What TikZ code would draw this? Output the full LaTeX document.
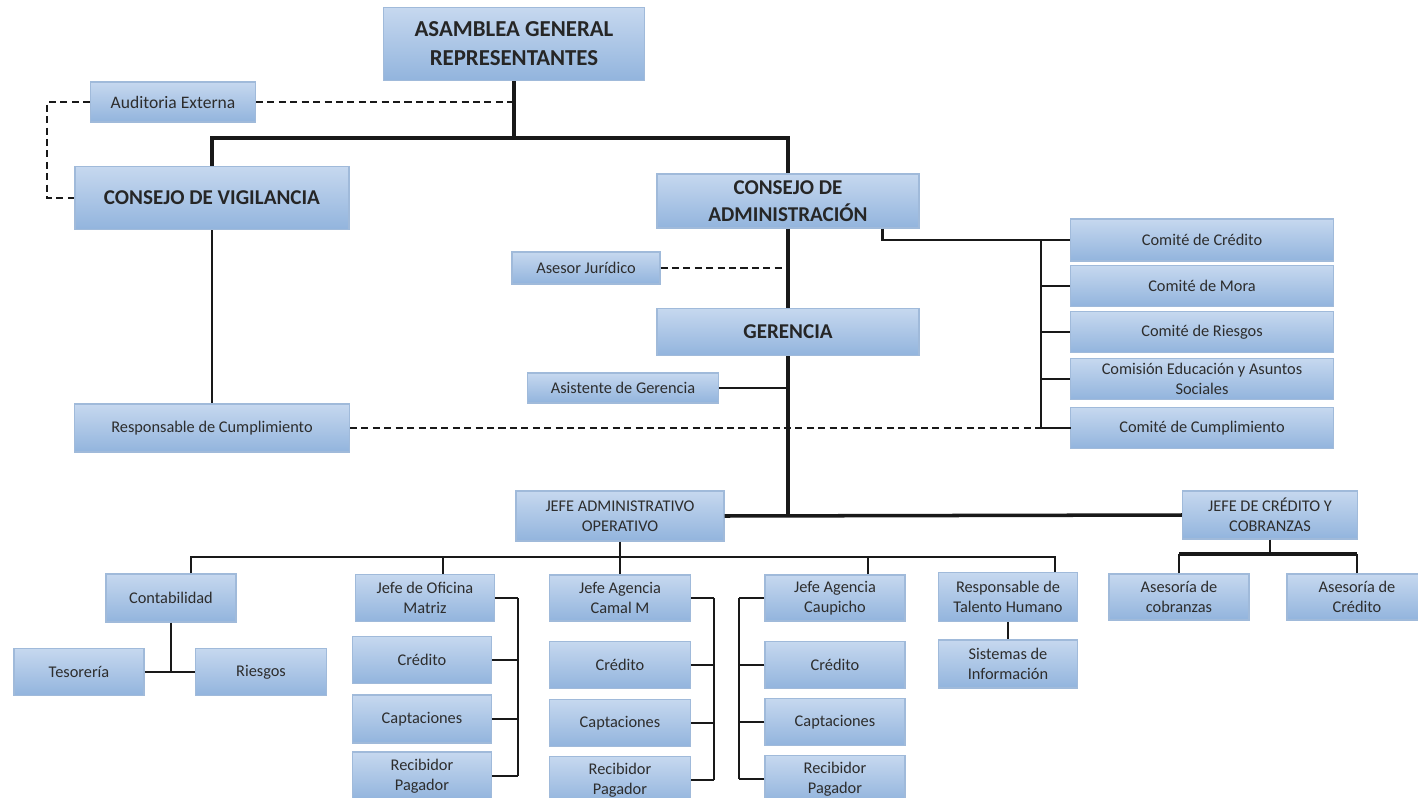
\documentclass[tikz,border=0pt]{standalone}
\usepackage{fontspec}
\setmainfont{Carlito}
\usetikzlibrary{calc}

\definecolor{cajaarriba}{RGB}{198,216,239}
\definecolor{cajaabajo}{RGB}{146,180,221}
\definecolor{borde}{RGB}{160,186,218}
\definecolor{tinta}{RGB}{45,45,45}
\definecolor{linea}{RGB}{25,25,25}

\tikzset{
  cargo/.style={draw=borde, line width=0.6pt, top color=cajaarriba, bottom color=cajaabajo,
    text=tinta, align=center, inner sep=0.5pt, font=\fontsize{9.3}{11.5}\selectfont},
  mando/.style={cargo, text=black!85, font=\bfseries\fontsize{12}{15.5}\selectfont},
  tam/.style 2 args={minimum width=#1*0.02cm, minimum height=#2*0.02cm},
  grueso/.style={draw=linea, line width=2pt},
  enlace/.style={draw=linea, line width=1.2pt},
  fino/.style={draw=linea, line width=0.9pt},
  apoyo/.style={draw=linea, line width=0.9pt, dash pattern=on 4pt off 2.5pt},
}

\begin{document}
\begin{tikzpicture}[x=0.02cm, y=-0.02cm]
\useasboundingbox (0,0) rectangle (1418,798);
\clip (0,0) rectangle (1418,798);
\fill[white] (0,0) rectangle (1418,798);

\node[mando, tam={261}{73}, font=\bfseries\fontsize{13}{16.5}\selectfont] (asamblea) at (514,44) {ASAMBLEA GENERAL\\REPRESENTANTES};
\node[cargo, tam={165}{40}, font=\fontsize{10}{12}\selectfont] (auditoria) at (173,102) {Auditoria Externa};
\node[mando, tam={274}{63}] (vigilancia) at (212,198) {CONSEJO DE VIGILANCIA};
\node[mando, tam={262}{54}] (administracion) at (788,201) {CONSEJO DE\\ADMINISTRACIÓN};

\node[cargo, tam={263}{42}] (comcredito) at (1202,240) {Comité de Crédito};
\node[cargo, tam={263}{41}] (commora) at (1202,286) {Comité de Mora};
\node[cargo, tam={263}{41}] (comriesgos) at (1202,332) {Comité de Riesgos};
\node[cargo, tam={263}{41}, font=\fontsize{9.3}{11}\selectfont, inner sep=0pt] (comeduc) at (1202,379) {Comisión Educación y Asuntos\\Sociales};
\node[cargo, tam={263}{41}] (comcumpl) at (1202,428) {Comité de Cumplimiento};

\node[cargo, tam={148}{32}] (asesor) at (586,268) {Asesor Jurídico};
\node[mando, tam={262}{47}] (gerencia) at (788,332) {GERENCIA};
\node[cargo, tam={191}{30}] (asistente) at (623,388) {Asistente de Gerencia};
\node[cargo, tam={275}{48}] (cumplimiento) at (212,428) {Responsable de Cumplimiento};

\node[cargo, tam={208}{50}] (jao) at (620,516) {JEFE ADMINISTRATIVO\\OPERATIVO};
\node[cargo, tam={175}{48}] (jcc) at (1270,515) {JEFE DE CRÉDITO Y\\COBRANZAS};

\node[cargo, tam={130}{48}] (contabilidad) at (171,598) {Contabilidad};
\node[cargo, tam={130}{47}] (tesoreria) at (79,672) {Tesorería};
\node[cargo, tam={131}{47}] (riesgos) at (261,672) {Riesgos};

\node[cargo, tam={139}{47}] (matriz) at (425,598) {Jefe de Oficina\\Matriz};
\node[cargo, tam={139}{47}] (credM) at (422,660) {Crédito};
\node[cargo, tam={139}{48}] (captM) at (422,719) {Captaciones};
\node[cargo, tam={139}{48}] (recM) at (422,776) {Recibidor\\Pagador};

\node[cargo, tam={141}{46}] (camal) at (620,598) {Jefe Agencia\\Camal M};
\node[cargo, tam={141}{47}] (credC) at (620,665) {Crédito};
\node[cargo, tam={141}{47}] (captC) at (620,723) {Captaciones};
\node[cargo, tam={141}{47}] (recC) at (620,780) {Recibidor\\Pagador};

\node[cargo, tam={140}{46}] (caupicho) at (835,598) {Jefe Agencia\\Caupicho};
\node[cargo, tam={140}{47}] (credP) at (835,665) {Crédito};
\node[cargo, tam={140}{47}] (captP) at (835,722) {Captaciones};
\node[cargo, tam={140}{47}] (recP) at (835,779) {Recibidor\\Pagador};

\node[cargo, tam={139}{49}] (talento) at (1008,597) {Responsable de\\Talento Humano};
\node[cargo, tam={139}{48}] (sistemas) at (1008,664) {Sistemas de\\Información};

\node[cargo, tam={140}{46}] (cobranzas) at (1179,597) {Asesoría de\\cobranzas};
\node[cargo, tam={140}{46}] (asescred) at (1357,597) {Asesoría de\\Crédito};

% lineas de mando
\draw[grueso] (asamblea.south) -- (asamblea.south |- 0,138) coordinate (barraA);
\draw[grueso] (vigilancia.north) |- (barraA) -| (administracion.north);
\draw[grueso] (administracion.south) -- (gerencia.north);
\draw[grueso] (gerencia.south) -- (gerencia.south |- jao.east);
\draw[grueso] (jao.east) -- (jcc.west);
\draw[fino] (vigilancia.south) -- (cumplimiento.north);
\draw[enlace] (asistente.east) -- (asistente.east -| gerencia.south);

% lineas punteadas
\draw[apoyo] (auditoria.east) -- (auditoria.east -| asamblea.south);
\draw[apoyo] (auditoria.west) -- ++(-43,0) |- (vigilancia.west);
\draw[apoyo] (asesor.east) -- (asesor.east -| gerencia.north);
\draw[apoyo] (cumplimiento.east) -- (comcumpl.west);

% comites
\coordinate (llave) at ($(administracion.south east)+(-37,0)$);
\draw[enlace] (llave) |- (comcredito.west);
\draw[enlace] (comcredito.west) ++(-29,0) -- ($(comcumpl.west)+(-29,0)$);
\foreach \c in {commora,comriesgos,comeduc,comcumpl}
  \draw[enlace] (\c.west) -- ++(-29,0);

% jefe administrativo
\draw[enlace] (jao.south) -- (jao.south |- 0,557) coordinate (barraB);
\foreach \x/\n in {191/contabilidad, 443/matriz, 868/caupicho, 1055/talento}
  \draw[enlace] (\n.north -| \x,0) |- (barraB);
\draw[enlace] (barraB) -- (camal.north);
\draw[enlace] (contabilidad.south) -- (contabilidad.south |- tesoreria.east);
\draw[enlace] (tesoreria.east) -- (riesgos.west);

\foreach \jefe/\s/\xl in {matriz/M/518, camal/C/714}{
  \draw[enlace] (\jefe.east -| \xl,0) -- (rec\s.east -| \xl,0);
  \foreach \n in {\jefe, cred\s, capt\s, rec\s}
    \draw[enlace] (\n.east) -- (\n.east -| \xl,0);
}
\draw[enlace] (caupicho.west -| 739,0) -- (recP.west -| 739,0);
\foreach \n in {caupicho, credP, captP, recP}
  \draw[enlace] (\n.west) -- (\n.west -| 739,0);
\draw[enlace] (talento.south) -- (sistemas.north);

% jefe de credito
\draw[enlace] (jcc.south) -- (jcc.south |- 0,554) coordinate (barraC);
\draw[grueso] (cobranzas.north |- barraC) -- (asescred.north |- barraC);
\draw[enlace] (cobranzas.north) -- (cobranzas.north |- barraC);
\draw[enlace] (asescred.north) -- (asescred.north |- barraC);
\end{tikzpicture}
\end{document}
